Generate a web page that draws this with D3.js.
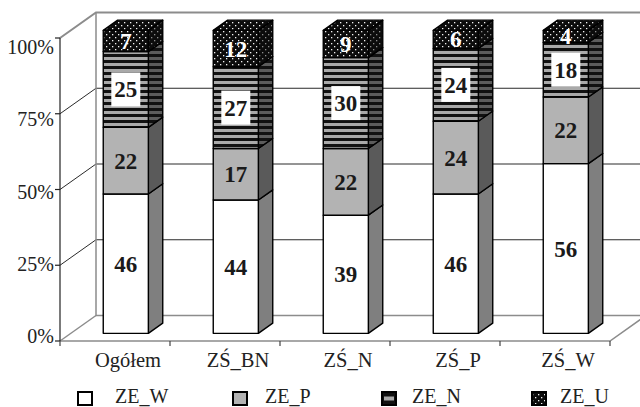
<!DOCTYPE html>
<html>
<head>
<meta charset="utf-8">
<script src="https://cdn.jsdelivr.net/npm/d3@7/dist/d3.min.js"></script>
</head>
<body style="margin:0">
<script>
// Category names and the four series (percent shares per category)
const categories = ["Ogółem", "ZŚ_BN", "ZŚ_N", "ZŚ_P", "ZŚ_W"];
const seriesNames = ["ZE_W", "ZE_P", "ZE_N", "ZE_U"];
const zeW = [46, 44, 39, 46, 56];
const zeP = [22, 17, 22, 24, 22];
const zeN = [25, 27, 30, 24, 18];
const zeU = [7, 12, 9, 6, 4];
const yTicks = [0, 25, 50, 75, 100];
const yTickLabels = ["0%", "25%", "50%", "75%", "100%"];

const SERIF = "Liberation Serif";
const W = 640, H = 407;
const DX = 36, DY = 25.5;          // depth of the 3D box (screen offset of back wall)
const zFront = 0.3, zBack = 0.7;    // depth of bar faces inside the box

const rows = categories.map((c, i) => ({
  cat: c, ZE_W: zeW[i], ZE_P: zeP[i], ZE_N: zeN[i], ZE_U: zeU[i]
}));
const stacked = d3.stack().keys(seriesNames)(rows);

const x = d3.scaleBand().domain(categories).range([60, 610]);
const y = d3.scaleLinear().domain([0, 100]).range([341, 38]);
const yLabel = d3.scaleLinear().domain([0, 100]).range([336, 47]);
const barW = x.bandwidth() * 0.41;

const svg = d3.select("body").append("svg").attr("width", W).attr("height", H)
  .style("display", "block").style("background", "#fff");
const defs = svg.append("defs");

function stripePattern(id, dark, light) {
  const p = defs.append("pattern").attr("id", id).attr("patternUnits", "userSpaceOnUse")
    .attr("width", 6).attr("height", 6);
  p.append("rect").attr("width", 6).attr("height", 6).attr("fill", dark);
  p.append("rect").attr("y", 3).attr("width", 6).attr("height", 3).attr("fill", light);
}
function dotPattern(id, bg, dot) {
  const p = defs.append("pattern").attr("id", id).attr("patternUnits", "userSpaceOnUse")
    .attr("width", 6).attr("height", 6);
  p.append("rect").attr("width", 6).attr("height", 6).attr("fill", bg);
  p.append("rect").attr("x", 1).attr("y", 1).attr("width", 1.3).attr("height", 1.3).attr("fill", dot);
  p.append("rect").attr("x", 4).attr("y", 4).attr("width", 1.3).attr("height", 1.3).attr("fill", dot);
}
stripePattern("stripeFront", "#111", "#a9a9a9");
stripePattern("stripeSide", "#111", "#5c5c5c");
dotPattern("dotFront", "#0c0c0c", "#f2f2f2");
dotPattern("dotSide", "#0c0c0c", "#8c8c8c");

const styles = {
  ZE_W: { front: "#ffffff", side: "#7f7f7f", top: "#ffffff", label: "#1a1a1a" },
  ZE_P: { front: "#b3b3b3", side: "#5a5a5a", top: "#b3b3b3", label: "#1a1a1a" },
  ZE_N: { front: "url(#stripeFront)", side: "url(#stripeSide)", top: "url(#stripeFront)", label: "#1a1a1a", box: true },
  ZE_U: { front: "url(#dotFront)", side: "url(#dotSide)", top: "url(#dotFront)", label: "#ffffff" }
};

const P = (px, v, z) => [px + z * DX, y(v) - z * DY];
const line = (pts) => "M" + pts.map(p => p.join(",")).join("L");

// ---- walls, floor and gridlines ----
const g = svg.append("g");
const wallColor = "#8c8c8c", gridColor = "#2a2a2a";
[25, 50, 75].forEach(v => {
  g.append("path").attr("d", line([P(60, v, 0), P(60, v, 1)]))
    .attr("stroke", gridColor).attr("stroke-width", 1).attr("fill", "none");
  g.append("path").attr("d", line([P(60, v, 1), P(640, v, 1)]))
    .attr("stroke", gridColor).attr("stroke-width", 1).attr("fill", "none");
});
g.append("path").attr("d", line([P(60, 100, 0), P(60, 100, 1), P(650, 100, 1)]))
  .attr("stroke", wallColor).attr("stroke-width", 2).attr("fill", "none");
g.append("path").attr("d", line([P(60, 100, 1), P(60, 0, 1), P(650, 0, 1)]))
  .attr("stroke", wallColor).attr("stroke-width", 1.5).attr("fill", "none");
g.append("path").attr("d", line([P(60, 0, 0), P(60, 0, 1)]))
  .attr("stroke", wallColor).attr("stroke-width", 1.5).attr("fill", "none");
g.append("path").attr("d", line([P(60, 0, 0), P(610, 0, 0), P(610, 0, 1)]))
  .attr("stroke", wallColor).attr("stroke-width", 1.5).attr("fill", "none");

// front value axis: line, ticks, labels
const ya = svg.append("g").attr("transform", "translate(60,0)");
ya.append("line").attr("x1", 0).attr("x2", 0).attr("y1", y(0)).attr("y2", y(100))
  .attr("stroke", "#222").attr("stroke-width", 1.2);
ya.selectAll("line.tk").data(yTicks).join("line").attr("class", "tk")
  .attr("x1", -5).attr("x2", 0).attr("y1", d => y(d)).attr("y2", d => y(d))
  .attr("stroke", "#222").attr("stroke-width", 1.2);
yTicks.forEach((d, i) => {
  svg.append("text").attr("x", 54).attr("y", yLabel(d) + 7)
    .style("font-family", SERIF).attr("font-size", 20)
    .attr("text-anchor", "end").attr("fill", "#222").text(yTickLabels[i]);
});

// category axis ticks and labels on the floor's front edge
const catTicks = categories.map(c => x(c) + x.bandwidth());
svg.append("g").selectAll("line").data([60].concat(catTicks)).join("line")
  .attr("x1", d => d).attr("x2", d => d).attr("y1", y(0)).attr("y2", y(0) + 5)
  .attr("stroke", "#444").attr("stroke-width", 1.2);
categories.forEach(c => {
  svg.append("text").attr("x", x(c) + x.bandwidth() / 2 + 13).attr("y", 367)
    .style("font-family", SERIF).attr("font-size", 20.5)
    .attr("text-anchor", "middle").attr("fill", "#222").text(c);
});

// ---- bars ----
const bars = svg.append("g");
stacked.forEach((layer, li) => {
  const st = styles[layer.key];
  layer.forEach((seg, ci) => {
    const cat = categories[ci];
    const x0 = x(cat) + (x.bandwidth() - barW) / 2;
    const x1 = x0 + barW;
    const v0 = seg[0], v1 = seg[1];
    const grp = bars.append("g");
    grp.append("path")
      .attr("d", line([P(x1, v1, zFront), P(x1, v1, zBack), P(x1, v0, zBack), P(x1, v0, zFront)]) + "Z")
      .attr("fill", st.side).attr("stroke", "#000").attr("stroke-width", 1.4).attr("stroke-linejoin", "round");
    if (li === stacked.length - 1) {
      grp.append("path")
        .attr("d", line([P(x0, v1, zFront), P(x0, v1, zBack), P(x1, v1, zBack), P(x1, v1, zFront)]) + "Z")
        .attr("fill", st.top).attr("stroke", "#000").attr("stroke-width", 1.4).attr("stroke-linejoin", "round");
    }
    grp.append("path")
      .attr("d", line([P(x0, v1, zFront), P(x1, v1, zFront), P(x1, v0, zFront), P(x0, v0, zFront)]) + "Z")
      .attr("fill", st.front).attr("stroke", "#000").attr("stroke-width", 1.4).attr("stroke-linejoin", "round");
  });
});

// ---- value labels ----
stacked.forEach(layer => {
  const st = styles[layer.key];
  layer.forEach((seg, ci) => {
    const cat = categories[ci];
    const cx = x(cat) + x.bandwidth() / 2 + zFront * DX;
    const cy = (y(seg[0]) + y(seg[1])) / 2 - zFront * DY;
    const val = seg[1] - seg[0];
    if (st.box) {
      svg.append("rect").attr("x", cx - 14.5).attr("y", cy - 17)
        .attr("width", 29).attr("height", 34).attr("fill", "#fff");
    }
    svg.append("text").attr("x", cx).attr("y", cy + 8)
      .style("font-family", SERIF).style("font-weight", "bold").attr("font-size", 23)
      .attr("text-anchor", "middle").attr("fill", st.label).text(val);
  });
});

// ---- legend ----
const legendX = [78, 233, 382, 532];
const legendTextX = [115, 265, 412, 560];
seriesNames.forEach((name, i) => {
  const st = styles[name];
  svg.append("rect").attr("x", legendX[i]).attr("y", 392).attr("width", 14).attr("height", 13)
    .attr("fill", name === "ZE_N" ? "#111" : st.front)
    .attr("stroke", "#000").attr("stroke-width", 2);
  if (name === "ZE_N") {
    svg.append("rect").attr("x", legendX[i] + 2).attr("y", 396.5).attr("width", 10).attr("height", 4)
      .attr("fill", "#a9a9a9");
  }
  svg.append("text").attr("x", legendTextX[i]).attr("y", 403)
    .style("font-family", SERIF).attr("font-size", 20)
    .attr("fill", "#222").text(name);
});
</script>
</body>
</html>
